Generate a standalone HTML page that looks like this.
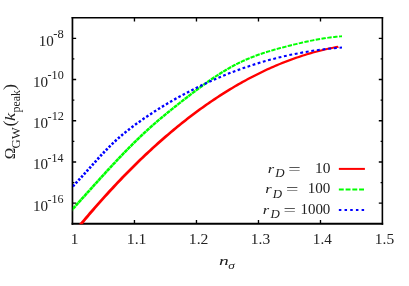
<!DOCTYPE html>
<html><head><meta charset="utf-8"><title>chart</title>
<style>
html,body{margin:0;padding:0;background:#fff;}
svg{display:block;font-family:"Liberation Serif",serif;}
</style></head>
<body>
<svg width="409" height="286" viewBox="0 0 409 286">
<rect width="409" height="286" fill="#fff"/>
<g stroke="#000" stroke-width="1.35" fill="none">
<path d="M72.45,203.19 h3.7 M382.5,203.19 h-3.7"/>
<path d="M72.45,182.58 h1.9 M382.5,182.58 h-1.9"/>
<path d="M72.45,161.97 h3.7 M382.5,161.97 h-3.7"/>
<path d="M72.45,141.36 h1.9 M382.5,141.36 h-1.9"/>
<path d="M72.45,120.75 h3.7 M382.5,120.75 h-3.7"/>
<path d="M72.45,100.14 h1.9 M382.5,100.14 h-1.9"/>
<path d="M72.45,79.53 h3.7 M382.5,79.53 h-3.7"/>
<path d="M72.45,58.92 h1.9 M382.5,58.92 h-1.9"/>
<path d="M72.45,38.31 h3.7 M382.5,38.31 h-3.7"/>
<path d="M134.46,223.8 v-3.7 M134.46,17.7 v3.7"/>
<path d="M196.47,223.8 v-3.7 M196.47,17.7 v3.7"/>
<path d="M258.48,223.8 v-3.7 M258.48,17.7 v3.7"/>
<path d="M320.49,223.8 v-3.7 M320.49,17.7 v3.7"/>
<path d="M72.45,17.0 V224.8" stroke-width="1.7"/>
<path d="M382.38,17.0 V224.8" stroke-width="1.6"/>
<path d="M71.60000000000001,223.85000000000002 H383.18" stroke-width="2.0"/>
<path d="M71.60000000000001,17.779999999999998 H383.18" stroke-width="1.55"/>
</g>
<clipPath id="c"><rect x="72.75" y="17.7" width="309.75" height="206.65"/></clipPath>
<g clip-path="url(#c)"><g fill="none" stroke-linecap="butt" stroke-linejoin="round" stroke-width="2.0" transform="scale(1.68,1)">
<path d="M46.726,227.05 L47.917,224.63 L49.107,222.23 L50.298,219.85 L51.488,217.48 L52.679,215.12 L53.869,212.79 L55.060,210.47 L56.250,208.16 L57.440,205.88 L58.631,203.60 L59.821,201.35 L61.012,199.11 L62.202,196.88 L63.393,194.68 L64.583,192.49 L65.774,190.31 L66.964,188.15 L68.155,186.01 L69.345,183.88 L70.536,181.77 L71.726,179.67 L72.917,177.59 L74.107,175.53 L75.298,173.48 L76.488,171.45 L77.679,169.44 L78.869,167.44 L80.060,165.46 L81.250,163.49 L82.440,161.54 L83.631,159.60 L84.821,157.69 L86.012,155.78 L87.202,153.90 L88.393,152.03 L89.583,150.17 L90.774,148.33 L91.964,146.51 L93.155,144.70 L94.345,142.91 L95.536,141.14 L96.726,139.38 L97.917,137.63 L99.107,135.91 L100.298,134.20 L101.488,132.50 L102.679,130.82 L103.869,129.16 L105.060,127.51 L106.250,125.88 L107.440,124.27 L108.631,122.67 L109.821,121.08 L111.012,119.51 L112.202,117.96 L113.393,116.43 L114.583,114.91 L115.774,113.40 L116.964,111.92 L118.155,110.44 L119.345,108.99 L120.536,107.55 L121.726,106.12 L122.917,104.71 L124.107,103.32 L125.298,101.94 L126.488,100.58 L127.679,99.24 L128.869,97.91 L130.060,96.60 L131.250,95.30 L132.440,94.02 L133.631,92.75 L134.821,91.50 L136.012,90.27 L137.202,89.05 L138.393,87.85 L139.583,86.66 L140.774,85.49 L141.964,84.33 L143.155,83.19 L144.345,82.07 L145.536,80.96 L146.726,79.87 L147.917,78.80 L149.107,77.74 L150.298,76.69 L151.488,75.66 L152.679,74.65 L153.869,73.65 L155.060,72.67 L156.250,71.71 L157.440,70.76 L158.631,69.82 L159.821,68.90 L161.012,68.00 L162.202,67.12 L163.393,66.24 L164.583,65.39 L165.774,64.55 L166.964,63.73 L168.155,62.92 L169.345,62.13 L170.536,61.35 L171.726,60.59 L172.917,59.84 L174.107,59.11 L175.298,58.40 L176.488,57.70 L177.679,57.02 L178.869,56.35 L180.060,55.70 L181.250,55.07 L182.440,54.45 L183.631,53.84 L184.821,53.26 L186.012,52.68 L187.202,52.13 L188.393,51.59 L189.583,51.06 L190.774,50.55 L191.964,50.06 L193.155,49.58 L194.345,49.11 L195.536,48.67 L196.726,48.24 L197.917,47.82 L199.107,47.42 L200.298,47.03 L201.429,46.68" stroke="#ff0000"/>
</g>
<path d="M70.92,212.91 L71.73,212.01 L72.62,211.04 L73.51,210.06 L71.57,208.31 L70.68,209.28 L69.80,210.25 L68.98,211.15ZM73.78,209.77 L74.66,208.79 L75.48,207.89 L76.36,206.92 L74.42,205.16 L73.54,206.13 L72.72,207.03 L71.84,208.01ZM76.63,206.62 L77.45,205.71 L78.27,204.80 L79.20,203.77 L77.26,202.01 L76.33,203.05 L75.51,203.95 L74.69,204.86ZM79.47,203.47 L80.31,202.54 L81.13,201.63 L82.04,200.62 L80.10,198.86 L79.18,199.88 L78.37,200.79 L77.53,201.72ZM82.31,200.32 L83.17,199.37 L83.99,198.46 L84.88,197.47 L82.93,195.71 L82.04,196.71 L81.22,197.61 L80.36,198.57ZM85.15,197.17 L86.03,196.19 L86.84,195.28 L87.71,194.32 L85.76,192.56 L84.89,193.53 L84.08,194.44 L83.20,195.42ZM87.98,194.02 L88.82,193.09 L89.63,192.18 L90.55,191.16 L88.60,189.41 L87.68,190.43 L86.87,191.34 L86.03,192.27ZM90.81,190.87 L91.67,189.91 L92.49,189.00 L93.38,188.02 L91.43,186.26 L90.54,187.25 L89.72,188.16 L88.86,189.12ZM93.65,187.72 L94.53,186.74 L95.35,185.83 L96.22,184.87 L94.27,183.11 L93.40,184.08 L92.58,184.98 L91.70,185.97ZM96.48,184.57 L97.32,183.65 L98.13,182.74 L99.06,181.72 L97.12,179.96 L96.19,180.99 L95.37,181.89 L94.54,182.82ZM99.33,181.43 L100.17,180.49 L100.99,179.59 L101.91,178.58 L99.97,176.82 L99.05,177.83 L98.23,178.73 L97.38,179.67ZM102.17,178.28 L103.03,177.34 L103.84,176.45 L104.76,175.44 L102.83,173.68 L101.91,174.69 L101.09,175.58 L100.24,176.52ZM105.03,175.14 L105.88,174.21 L106.70,173.32 L107.63,172.30 L105.71,170.54 L104.77,171.56 L103.95,172.45 L103.10,173.38ZM107.90,172.00 L108.73,171.10 L109.62,170.14 L110.51,169.17 L108.59,167.40 L107.70,168.37 L106.81,169.33 L105.98,170.24ZM110.78,168.87 L111.66,167.93 L112.47,167.05 L113.40,166.04 L111.49,164.27 L110.56,165.28 L109.74,166.16 L108.87,167.10ZM113.68,165.75 L114.51,164.85 L115.39,163.91 L116.31,162.92 L114.41,161.15 L113.49,162.13 L112.61,163.08 L111.77,163.97ZM116.59,162.62 L117.43,161.73 L118.31,160.79 L119.23,159.81 L117.35,158.03 L116.42,159.01 L115.54,159.95 L114.69,160.85ZM119.52,159.51 L120.41,158.56 L121.30,157.63 L122.18,156.70 L120.31,154.92 L119.42,155.85 L118.54,156.78 L117.64,157.73ZM122.47,156.40 L123.33,155.50 L124.21,154.58 L125.15,153.61 L123.30,151.82 L122.36,152.79 L121.47,153.71 L120.60,154.62ZM125.44,153.30 L126.32,152.40 L127.20,151.49 L128.15,150.52 L126.31,148.72 L125.36,149.70 L124.47,150.61 L123.59,151.51ZM128.45,150.22 L129.37,149.27 L130.25,148.37 L131.17,147.44 L129.35,145.64 L128.43,146.57 L127.54,147.47 L126.61,148.42ZM131.47,147.14 L132.42,146.18 L133.30,145.30 L134.23,144.38 L132.43,142.57 L131.50,143.49 L130.61,144.38 L129.66,145.33ZM134.54,144.07 L135.47,143.14 L136.35,142.27 L137.32,141.33 L135.54,139.51 L134.57,140.45 L133.68,141.33 L132.74,142.26ZM137.63,141.02 L138.52,140.15 L139.47,139.23 L140.44,138.29 L138.69,136.46 L137.71,137.40 L136.76,138.33 L135.86,139.20ZM140.77,137.98 L141.71,137.08 L142.66,136.18 L143.61,135.27 L141.89,133.43 L140.92,134.34 L139.97,135.25 L139.02,136.15ZM143.95,134.96 L144.89,134.07 L145.84,133.18 L146.83,132.27 L145.13,130.42 L144.13,131.34 L143.18,132.23 L142.22,133.12ZM147.17,131.95 L148.14,131.06 L149.09,130.20 L150.09,129.29 L148.43,127.43 L147.41,128.35 L146.46,129.21 L145.48,130.11ZM150.45,128.97 L151.46,128.06 L152.41,127.21 L153.41,126.32 L151.77,124.46 L150.76,125.35 L149.80,126.20 L148.78,127.11ZM153.77,126.00 L154.78,125.11 L155.73,124.28 L156.77,123.38 L155.16,121.51 L154.11,122.42 L153.15,123.25 L152.14,124.14ZM157.15,123.05 L158.10,122.23 L159.12,121.35 L160.18,120.45 L158.59,118.58 L157.52,119.48 L156.50,120.36 L155.53,121.18ZM160.56,120.12 L161.56,119.28 L162.58,118.42 L163.63,117.54 L162.06,115.66 L161.00,116.54 L159.98,117.40 L158.98,118.25ZM164.02,117.21 L165.02,116.38 L166.04,115.54 L167.12,114.65 L165.57,112.76 L164.48,113.66 L163.46,114.50 L162.46,115.33ZM167.52,114.31 L168.55,113.47 L169.56,112.64 L170.64,111.77 L169.11,109.88 L168.03,110.76 L167.01,111.59 L165.98,112.43ZM171.06,111.43 L172.07,110.61 L173.09,109.78 L174.20,108.90 L172.69,107.01 L171.58,107.90 L170.55,108.72 L169.53,109.54ZM174.62,108.56 L175.67,107.72 L176.69,106.91 L177.78,106.04 L176.29,104.15 L175.19,105.02 L174.17,105.83 L173.11,106.67ZM178.21,105.70 L179.27,104.86 L180.29,104.06 L181.39,103.19 L179.91,101.30 L178.80,102.17 L177.78,102.97 L176.72,103.81ZM181.83,102.85 L182.87,102.03 L183.89,101.23 L185.02,100.35 L183.54,98.46 L182.41,99.34 L181.39,100.14 L180.34,100.96ZM185.46,100.01 L186.54,99.17 L187.56,98.38 L188.67,97.52 L187.20,95.62 L186.09,96.48 L185.07,97.27 L183.99,98.11ZM189.11,97.18 L190.14,96.38 L191.23,95.55 L192.33,94.70 L190.88,92.80 L189.77,93.65 L188.68,94.48 L187.65,95.28ZM192.79,94.35 L193.81,93.58 L194.89,92.75 L196.03,91.89 L194.59,89.99 L193.45,90.85 L192.36,91.67 L191.34,92.45ZM196.49,91.55 L197.54,90.76 L198.62,89.94 L199.75,89.10 L198.34,87.20 L197.20,88.04 L196.11,88.85 L195.06,89.64ZM200.22,88.76 L201.34,87.93 L202.42,87.14 L203.52,86.34 L202.13,84.42 L201.03,85.23 L199.93,86.03 L198.81,86.85ZM204.00,85.99 L205.13,85.17 L206.22,84.39 L207.33,83.59 L205.97,81.68 L204.85,82.47 L203.76,83.25 L202.62,84.07ZM207.83,83.24 L208.93,82.46 L210.01,81.70 L211.20,80.88 L209.87,78.96 L208.68,79.79 L207.58,80.55 L206.47,81.33ZM211.71,80.53 L212.85,79.74 L213.94,79.00 L215.12,78.20 L213.84,76.28 L212.64,77.08 L211.55,77.82 L210.39,78.61ZM215.65,77.85 L216.78,77.10 L217.93,76.34 L219.12,75.57 L217.88,73.64 L216.67,74.42 L215.51,75.17 L214.38,75.92ZM219.68,75.21 L220.84,74.46 L221.99,73.73 L223.20,72.98 L222.01,71.05 L220.78,71.81 L219.62,72.53 L218.44,73.28ZM223.78,72.62 L224.96,71.89 L226.11,71.20 L227.37,70.45 L226.23,68.51 L224.96,69.27 L223.79,69.96 L222.60,70.68ZM227.99,70.08 L229.15,69.40 L230.37,68.71 L231.64,67.98 L230.57,66.05 L229.27,66.77 L228.04,67.47 L226.86,68.15ZM232.30,67.62 L233.54,66.94 L234.75,66.28 L236.04,65.60 L235.03,63.67 L233.73,64.35 L232.49,65.00 L231.24,65.68ZM236.74,65.24 L237.99,64.60 L239.27,63.95 L240.56,63.32 L239.63,61.39 L238.32,62.02 L237.02,62.66 L235.75,63.30ZM241.33,62.96 L242.65,62.33 L243.93,61.74 L245.23,61.15 L244.37,59.22 L243.06,59.81 L241.75,60.40 L240.41,61.02ZM246.06,60.78 L247.37,60.21 L248.66,59.66 L250.03,59.08 L249.25,57.16 L247.85,57.73 L246.55,58.28 L245.21,58.85ZM250.93,58.72 L252.24,58.19 L253.59,57.66 L254.97,57.13 L254.25,55.21 L252.85,55.74 L251.48,56.27 L250.15,56.80ZM255.93,56.77 L257.31,56.26 L258.66,55.77 L260.03,55.28 L259.36,53.37 L257.98,53.85 L256.62,54.34 L255.22,54.85ZM261.05,54.93 L262.45,54.45 L263.81,53.99 L265.19,53.54 L264.58,51.63 L263.18,52.09 L261.81,52.54 L260.39,53.02ZM266.27,53.19 L267.67,52.75 L269.02,52.33 L270.46,51.89 L269.89,49.99 L268.44,50.43 L267.08,50.85 L265.67,51.29ZM271.59,51.55 L272.95,51.15 L274.38,50.74 L275.80,50.33 L275.27,48.43 L273.84,48.84 L272.40,49.25 L271.03,49.65ZM276.98,50.00 L278.38,49.61 L279.74,49.24 L281.22,48.84 L280.71,46.95 L279.22,47.35 L277.86,47.72 L276.45,48.11ZM282.43,48.52 L283.81,48.15 L285.24,47.78 L286.69,47.41 L286.20,45.52 L284.75,45.89 L283.32,46.26 L281.93,46.63ZM287.93,47.09 L289.31,46.74 L290.74,46.38 L292.19,46.01 L291.72,44.12 L290.26,44.49 L288.83,44.85 L287.44,45.20ZM293.45,45.70 L294.81,45.36 L296.24,45.02 L297.72,44.66 L297.27,42.77 L295.78,43.13 L294.35,43.48 L292.98,43.81ZM299.00,44.36 L300.38,44.03 L301.81,43.70 L303.29,43.36 L302.86,41.48 L301.37,41.82 L299.94,42.15 L298.56,42.47ZM304.59,43.07 L306.01,42.75 L307.44,42.44 L308.89,42.13 L308.50,40.25 L307.04,40.56 L305.60,40.87 L304.17,41.19ZM310.22,41.85 L311.64,41.56 L313.07,41.28 L314.54,40.99 L314.18,39.11 L312.70,39.40 L311.26,39.69 L309.84,39.98ZM315.90,40.73 L317.34,40.46 L318.76,40.20 L320.23,39.94 L319.91,38.07 L318.43,38.33 L317.00,38.59 L315.55,38.85ZM321.64,39.70 L323.10,39.46 L324.53,39.23 L325.98,39.01 L325.70,37.15 L324.24,37.37 L322.80,37.59 L321.32,37.83ZM327.42,38.80 L328.86,38.60 L330.28,38.41 L331.78,38.22 L331.55,36.36 L330.04,36.55 L328.61,36.74 L327.16,36.94ZM333.26,38.04 L334.69,37.88 L336.11,37.73 L337.63,37.58 L337.46,35.72 L335.92,35.87 L334.48,36.02 L333.05,36.18ZM339.15,37.44 L340.10,37.36 L341.05,37.29 L342.06,37.21 L341.94,35.36 L340.91,35.43 L339.95,35.51 L338.99,35.58Z" fill="#00ff00"/>
<path d="M70.88,190.27 L72.54,188.57 L70.67,186.76 L69.02,188.44ZM73.78,187.29 L75.41,185.58 L73.50,183.78 L71.89,185.48ZM76.62,184.29 L78.22,182.57 L76.29,180.79 L74.70,182.50ZM79.41,181.29 L81.00,179.56 L79.05,177.78 L77.48,179.50ZM82.17,178.27 L83.74,176.53 L81.78,174.77 L80.22,176.50ZM84.91,175.25 L86.47,173.51 L84.50,171.74 L82.94,173.48ZM87.62,172.22 L89.18,170.48 L87.21,168.72 L85.65,170.46ZM90.33,169.19 L91.89,167.45 L89.91,165.69 L88.36,167.43ZM93.04,166.17 L94.60,164.43 L92.63,162.66 L91.07,164.40ZM95.75,163.14 L97.32,161.41 L95.36,159.64 L93.79,161.38ZM98.48,160.13 L100.06,158.40 L98.12,156.62 L96.53,158.35ZM101.23,157.12 L102.83,155.41 L100.91,153.62 L99.30,155.34ZM104.02,154.13 L105.63,152.43 L103.74,150.62 L102.11,152.34ZM106.85,151.16 L108.49,149.47 L106.63,147.65 L104.97,149.35ZM109.73,148.20 L111.40,146.53 L109.59,144.69 L107.89,146.38ZM112.68,145.28 L114.39,143.62 L112.62,141.76 L110.89,143.43ZM115.71,142.38 L117.46,140.75 L115.75,138.87 L113.96,140.51ZM118.82,139.51 L120.62,137.91 L118.97,136.01 L117.13,137.62ZM122.03,136.69 L123.89,135.11 L122.28,133.19 L120.40,134.78ZM125.34,133.90 L127.24,132.35 L125.69,130.42 L123.76,131.97ZM128.75,131.15 L130.69,129.63 L129.19,127.68 L127.22,129.21ZM132.24,128.44 L134.23,126.95 L132.77,124.99 L130.76,126.49ZM135.82,125.77 L137.84,124.30 L136.43,122.33 L134.38,123.81ZM139.47,123.13 L141.53,121.68 L140.15,119.70 L138.07,121.16ZM143.19,120.53 L145.27,119.09 L143.92,117.11 L141.82,118.55ZM146.96,117.94 L149.07,116.52 L147.74,114.54 L145.62,115.96ZM150.78,115.38 L152.91,113.98 L151.61,111.99 L149.46,113.39ZM154.65,112.85 L156.80,111.47 L155.53,109.47 L153.36,110.86ZM158.57,110.35 L160.75,108.99 L159.51,106.98 L157.31,108.35ZM162.54,107.88 L164.74,106.53 L163.53,104.52 L161.31,105.87ZM166.56,105.43 L168.79,104.10 L167.60,102.09 L165.36,103.42ZM170.64,103.02 L172.89,101.71 L171.73,99.70 L169.46,101.01ZM174.76,100.64 L177.04,99.35 L175.91,97.33 L173.62,98.62ZM178.94,98.29 L181.24,97.02 L180.14,95.00 L177.82,96.27ZM183.17,95.97 L185.50,94.72 L184.42,92.70 L182.08,93.95ZM187.46,93.69 L189.81,92.46 L188.76,90.44 L186.39,91.66ZM191.79,91.44 L194.16,90.23 L193.15,88.21 L190.76,89.41ZM196.18,89.23 L198.57,88.04 L197.58,86.02 L195.17,87.20ZM200.62,87.05 L203.04,85.89 L202.07,83.86 L199.64,85.02ZM205.11,84.91 L207.55,83.77 L206.62,81.75 L204.16,82.88ZM209.65,82.81 L212.12,81.70 L211.21,79.67 L208.73,80.78ZM214.24,80.76 L216.73,79.67 L215.86,77.64 L213.35,78.73ZM218.89,78.74 L221.40,77.68 L220.56,75.65 L218.03,76.71ZM223.59,76.77 L226.13,75.74 L225.31,73.70 L222.76,74.74ZM228.34,74.85 L230.91,73.84 L230.12,71.81 L227.54,72.82ZM233.15,72.97 L235.74,71.99 L234.98,69.96 L232.38,70.94ZM238.01,71.15 L240.63,70.20 L239.90,68.17 L237.27,69.12ZM242.93,69.37 L245.57,68.45 L244.87,66.42 L242.22,67.34ZM247.90,67.65 L250.56,66.77 L249.89,64.74 L247.22,65.63ZM252.92,65.99 L255.61,65.13 L254.97,63.11 L252.27,63.96ZM258.00,64.39 L260.71,63.56 L260.10,61.54 L257.38,62.36ZM263.13,62.84 L265.86,62.05 L265.28,60.03 L262.54,60.82ZM268.31,61.36 L271.06,60.61 L270.52,58.58 L267.75,59.34ZM273.54,59.95 L276.31,59.23 L275.80,57.21 L273.01,57.92ZM278.82,58.60 L281.62,57.91 L281.13,55.89 L278.32,56.58ZM284.15,57.31 L286.96,56.67 L286.51,54.65 L283.68,55.30ZM289.53,56.10 L292.36,55.50 L291.94,53.48 L289.09,54.09ZM294.95,54.97 L297.80,54.40 L297.41,52.39 L294.54,52.95ZM300.41,53.90 L303.28,53.38 L302.92,51.37 L300.03,51.89ZM305.91,52.92 L308.79,52.43 L308.47,50.42 L305.57,50.91ZM311.45,52.01 L314.35,51.57 L314.05,49.56 L311.14,50.00ZM317.03,51.18 L319.94,50.78 L319.67,48.77 L316.74,49.17ZM322.63,50.43 L325.56,50.08 L325.32,48.07 L322.38,48.43ZM328.27,49.77 L331.21,49.45 L331.00,47.45 L328.05,47.76ZM333.93,49.18 L336.88,48.91 L336.70,46.91 L333.74,47.18ZM339.62,48.68 L342.07,48.50 L341.93,46.49 L339.46,46.68Z" fill="#0000ff"/></g>
<g fill="#222" style="opacity:0.999">
<text transform="translate(47.55,202.89) scale(1.050,1)" font-size="11.5">-16</text>
<text transform="translate(32.89,210.59) scale(1.040,1)" font-size="14.5">10</text>
<text transform="translate(47.56,161.67) scale(1.039,1)" font-size="11.5">-14</text>
<text transform="translate(32.89,169.37) scale(1.040,1)" font-size="14.5">10</text>
<text transform="translate(47.54,120.45) scale(1.072,1)" font-size="11.5">-12</text>
<text transform="translate(32.89,128.15) scale(1.040,1)" font-size="14.5">10</text>
<text transform="translate(47.55,79.23) scale(1.058,1)" font-size="11.5">-10</text>
<text transform="translate(32.89,86.93) scale(1.040,1)" font-size="14.5">10</text>
<text transform="translate(53.34,38.01) scale(1.090,1)" font-size="11.5">-8</text>
<text transform="translate(38.69,45.71) scale(1.040,1)" font-size="14.5">10</text>
<text transform="translate(70.82,244.10) scale(1.055,1)" font-size="14.5">1</text>
<text transform="translate(126.79,244.10) scale(1.088,1)" font-size="14.5">1.1</text>
<text transform="translate(188.80,244.10) scale(1.083,1)" font-size="14.5">1.2</text>
<text transform="translate(250.83,244.10) scale(1.068,1)" font-size="14.5">1.3</text>
<text transform="translate(312.87,244.10) scale(1.045,1)" font-size="14.5">1.4</text>
<text transform="translate(374.85,244.10) scale(1.068,1)" font-size="14.5">1.5</text>
<text transform="translate(219.11,264.70) scale(1.450,1)" font-size="13.5" font-style="italic">n</text>
<text transform="translate(228.21,268.60) scale(1.372,1)" font-size="9.7" font-style="italic">σ</text>
<g transform="translate(14.7,158.5) rotate(-90)"><text transform="translate(-0.79,0.00) scale(1.058,1)" font-size="14.6">Ω</text><text transform="translate(10.08,5.10) scale(1.058,1)" font-size="12">GW</text><text transform="translate(32.12,0.30) scale(1.139,1)" font-size="16">(</text><text transform="translate(37.39,0.00) scale(1.222,1)" font-size="15" font-style="italic">k</text><text transform="translate(46.11,5.10) scale(0.993,1)" font-size="12">peak</text><text transform="translate(68.62,0.30) scale(1.139,1)" font-size="16">)</text></g>
<text transform="translate(267.64,172.90) scale(1.217,1)" font-size="13.5" font-style="italic">r</text>
<text transform="translate(275.25,177.00) scale(1.059,1)" font-size="12.2" font-style="italic">D</text>
<text transform="translate(288.32,173.80) scale(1.521,1)" font-size="14.5">=</text>
<text transform="translate(314.96,172.90) scale(1.064,1)" font-size="14.5">10</text>
<text transform="translate(265.24,193.40) scale(1.217,1)" font-size="13.5" font-style="italic">r</text>
<text transform="translate(272.86,197.50) scale(1.059,1)" font-size="12.2" font-style="italic">D</text>
<text transform="translate(285.92,194.30) scale(1.521,1)" font-size="14.5">=</text>
<text transform="translate(307.68,193.40) scale(1.043,1)" font-size="14.5">100</text>
<text transform="translate(262.84,214.00) scale(1.217,1)" font-size="13.5" font-style="italic">r</text>
<text transform="translate(270.45,218.10) scale(1.059,1)" font-size="12.2" font-style="italic">D</text>
<text transform="translate(283.52,214.90) scale(1.521,1)" font-size="14.5">=</text>
<text transform="translate(300.40,214.00) scale(1.034,1)" font-size="14.5">1000</text>
</g>
<g fill="none" stroke-width="2.0">
<path d="M338.85,168.9 H364.9" stroke="#ff0000"/>
<path d="M338.85,189.4 H364.2" stroke="#00ff00" stroke-dasharray="4.9,1.85"/>
<path d="M338.85,210.1 H364.2" stroke="#0000ff" stroke-dasharray="2.5,3.19"/>
</g>
</svg>
</body></html>
